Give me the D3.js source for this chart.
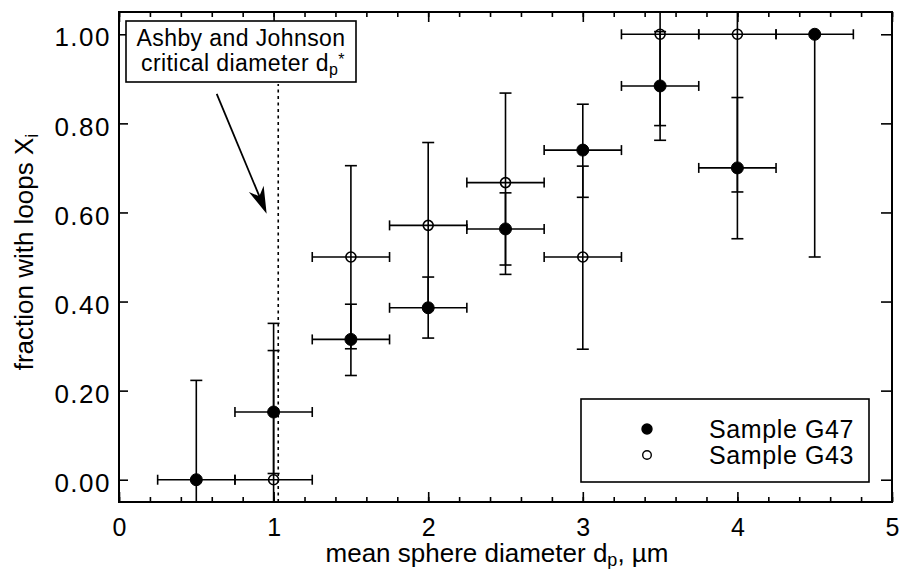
<!DOCTYPE html>
<html>
<head>
<meta charset="utf-8">
<script src="https://cdn.jsdelivr.net/npm/d3@7"></script>
<style>
  body { margin: 0; background: #fff; }
  svg { display: block; font-family: "Liberation Sans", Arial, Helvetica, sans-serif; }
  .axis path { display: none; }
  .axis line { stroke: #000; stroke-width: 1.6; }
  .axis text { fill: #000; }
</style>
</head>
<body>
<svg width="900" height="569"></svg>
<script>
// Sample G47 (filled)
const g47Diam = [0.5, 1.0, 1.5, 2.0, 2.5, 3.0, 3.5, 4.0, 4.5];
const g47Frac = [0.0, 0.152, 0.315, 0.386, 0.563, 0.740, 0.884, 0.700, 1.0];
const g47Lo   = [-0.22, 0.014, 0.234, 0.318, 0.482, 0.634, 0.762, 0.541, 0.50];
const g47Hi   = [0.223, 0.351, 0.394, 0.455, 0.644, 0.843, 1.006, 0.858, 1.0];

// Sample G43 (open)
const g43Diam = [1.0, 1.5, 2.0, 2.5, 3.0, 3.5, 4.0];
const g43Frac = [0.0, 0.500, 0.571, 0.667, 0.500, 1.0, 1.0];
const g43Lo   = [-0.29, 0.294, 0.385, 0.461, 0.293, 0.795, 0.646];
const g43Hi   = [0.29, 0.705, 0.757, 0.868, 0.704, 1.205, 1.354];

// each bin is 0.5 um wide
const binHalf = 0.25;

const xTicks = [0, 1, 2, 3, 4, 5];
const xMinor = d3.range(0, 5.001, 0.2);
const yTicks = [0, 0.2, 0.4, 0.6, 0.8, 1.0];
const critDiam = 1.03;

const svg = d3.select('svg');
const mLeft = 119, mRight = 892, mTop = 12, mBottom = 502;

const x = d3.scaleLinear().domain([0, 5]).range([mLeft, mRight]);
const y = d3.scaleLinear().domain([-0.05, 1.05]).range([mBottom, mTop]);

const series = [
  { name: 'Sample G47', filled: true, d: g47Diam.map((v, i) => ({ x: v, y: g47Frac[i], lo: g47Lo[i], hi: g47Hi[i] })) },
  { name: 'Sample G43', filled: false, d: g43Diam.map((v, i) => ({ x: v, y: g43Frac[i], lo: g43Lo[i], hi: g43Hi[i] })) }
];

svg.append('clipPath').attr('id', 'plot')
  .append('rect')
  .attr('x', mLeft).attr('y', mTop)
  .attr('width', mRight - mLeft).attr('height', mBottom - mTop);

/**
 * Axes, all ticks pointing in.
 */
svg.append('g').attr('class', 'axis')
  .attr('transform', `translate(0,${mBottom})`)
  .call(d3.axisBottom(x).tickValues(xMinor).tickSize(-5).tickFormat(''));
svg.append('g').attr('class', 'axis')
  .attr('transform', `translate(0,${mBottom})`)
  .call(d3.axisBottom(x).tickValues(xTicks).tickSize(-10).tickPadding(16).tickFormat(d3.format('d')))
  .selectAll('text').attr('font-size', 25);
svg.append('g').attr('class', 'axis')
  .attr('transform', `translate(0,${mTop})`)
  .call(d3.axisTop(x).tickValues(xMinor).tickSize(-5).tickFormat(''));
svg.append('g').attr('class', 'axis')
  .attr('transform', `translate(0,${mTop})`)
  .call(d3.axisTop(x).tickValues(xTicks).tickSize(-10).tickFormat(''));
svg.append('g').attr('class', 'axis')
  .attr('transform', `translate(${mLeft},0)`)
  .call(d3.axisLeft(y).tickValues(yTicks).tickSize(-9).tickPadding(8).tickFormat(d3.format('.2f')))
  .selectAll('text')
  .attr('font-size', 26)
  .attr('letter-spacing', 1.5)
  .attr('dy', '0.45em');
svg.append('g').attr('class', 'axis')
  .attr('transform', `translate(${mRight},0)`)
  .call(d3.axisRight(y).tickValues(yTicks).tickSize(-11).tickFormat(''));

svg.append('rect')
  .attr('x', mLeft).attr('y', mTop)
  .attr('width', mRight - mLeft).attr('height', mBottom - mTop)
  .attr('fill', 'none').attr('stroke', '#000').attr('stroke-width', 2);

/**
 * Axis titles.
 */
const xt = svg.append('text')
  .attr('x', 497).attr('y', 562)
  .attr('text-anchor', 'middle')
  .attr('font-size', 26);
xt.append('tspan').text('mean sphere diameter d');
xt.append('tspan').attr('font-size', 18).attr('dy', 4).text('p');
xt.append('tspan').attr('dy', -4).text(', \u00b5m');

const yt = svg.append('text')
  .attr('transform', 'translate(33,252) rotate(-90)')
  .attr('text-anchor', 'middle')
  .attr('font-size', 26);
yt.append('tspan').text('fraction with loops X');
yt.append('tspan').attr('font-size', 18).attr('dy', 5).text('i');

/**
 * Critical diameter line and note.
 */
const boxX0 = 126, boxY0 = 21, boxX1 = 356, boxY1 = 82;

svg.append('line')
  .attr('x1', x(critDiam)).attr('x2', x(critDiam))
  .attr('y1', mBottom).attr('y2', boxY1 + 2)
  .attr('stroke', '#000').attr('stroke-width', 1.6)
  .attr('stroke-dasharray', '3,3.5');

svg.append('rect')
  .attr('x', boxX0).attr('y', boxY0)
  .attr('width', boxX1 - boxX0).attr('height', boxY1 - boxY0)
  .attr('fill', '#fff').attr('stroke', '#000').attr('stroke-width', 1.6);

svg.append('text')
  .attr('x', (boxX0 + boxX1) / 2).attr('y', 46)
  .attr('text-anchor', 'middle')
  .attr('font-size', 23)
  .attr('letter-spacing', 0.4)
  .text('Ashby and Johnson');
const n2 = svg.append('text')
  .attr('x', (boxX0 + boxX1) / 2 + 2).attr('y', 71)
  .attr('text-anchor', 'middle')
  .attr('font-size', 23)
  .attr('letter-spacing', 0.4);
n2.append('tspan').text('critical diameter d');
n2.append('tspan').attr('font-size', 16).attr('dy', 4).text('p');
n2.append('tspan').attr('font-size', 16).attr('dy', -10).text('*');

// arrow from the note down to the line
const a0 = [x(0.632), y(0.866)], a1 = [x(0.955), y(0.597)];
const dx = a1[0] - a0[0], dy = a1[1] - a0[1], len = Math.hypot(dx, dy);
const ux = dx / len, uy = dy / len;
const headLen = 27, headW = 8;
const bx = a1[0] - ux * headLen, by = a1[1] - uy * headLen;
svg.append('line')
  .attr('x1', a0[0]).attr('y1', a0[1])
  .attr('x2', a1[0] - ux * 15).attr('y2', a1[1] - uy * 15)
  .attr('stroke', '#000').attr('stroke-width', 1.8);
svg.append('path')
  .attr('d', `M${a1[0]},${a1[1]}L${bx - uy * headW},${by + ux * headW}L${a1[0] - ux * 19},${a1[1] - uy * 19}L${bx + uy * headW},${by - ux * headW}Z`)
  .attr('fill', '#000');

/**
 * Error bars and markers.
 */
const plot = svg.append('g').attr('clip-path', 'url(#plot)');
const cap = 6;

series.forEach(s => {
  const g = plot.append('g');
  const bars = g.selectAll('g.bar').data(s.d).enter().append('g').attr('class', 'bar')
    .attr('stroke', '#000').attr('stroke-width', 1.6);
  bars.append('line')
    .attr('x1', d => x(d.x - binHalf)).attr('x2', d => x(d.x + binHalf))
    .attr('y1', d => y(d.y)).attr('y2', d => y(d.y));
  bars.append('line')
    .attr('x1', d => x(d.x - binHalf)).attr('x2', d => x(d.x - binHalf))
    .attr('y1', d => y(d.y) - cap + 1).attr('y2', d => y(d.y) + cap - 1);
  bars.append('line')
    .attr('x1', d => x(d.x + binHalf)).attr('x2', d => x(d.x + binHalf))
    .attr('y1', d => y(d.y) - cap + 1).attr('y2', d => y(d.y) + cap - 1);
  bars.append('line')
    .attr('x1', d => x(d.x)).attr('x2', d => x(d.x))
    .attr('y1', d => y(d.lo)).attr('y2', d => y(d.hi));
  bars.filter(d => d.lo > -0.05).append('line')
    .attr('x1', d => x(d.x) - cap).attr('x2', d => x(d.x) + cap)
    .attr('y1', d => y(d.lo)).attr('y2', d => y(d.lo));
  bars.filter(d => d.hi < 1.05 && d.hi > d.y).append('line')
    .attr('x1', d => x(d.x) - cap).attr('x2', d => x(d.x) + cap)
    .attr('y1', d => y(d.hi)).attr('y2', d => y(d.hi));
});

series.forEach(s => {
  plot.append('g').selectAll('circle').data(s.d).enter().append('circle')
    .attr('cx', d => x(d.x)).attr('cy', d => y(d.y))
    .attr('r', s.filled ? 6 : 5)
    .attr('fill', s.filled ? '#000' : 'none')
    .attr('stroke', '#000').attr('stroke-width', s.filled ? 1 : 1.6);
});

/**
 * Legend.
 */
const leg = svg.append('g');
leg.append('rect')
  .attr('x', 581).attr('y', 399).attr('width', 288).attr('height', 83)
  .attr('fill', '#fff').attr('stroke', '#000').attr('stroke-width', 1.6);
series.forEach((s, i) => {
  const ly = 429 + i * 26;
  leg.append('circle')
    .attr('cx', 647).attr('cy', ly)
    .attr('r', s.filled ? 5 : 4.3)
    .attr('fill', s.filled ? '#000' : 'none')
    .attr('stroke', '#000').attr('stroke-width', 1.4);
  leg.append('text')
    .attr('x', 854).attr('y', ly + 9)
    .attr('text-anchor', 'end')
    .attr('font-size', 25)
    .attr('letter-spacing', 0.6)
    .text(s.name);
});
</script>
</body>
</html>
